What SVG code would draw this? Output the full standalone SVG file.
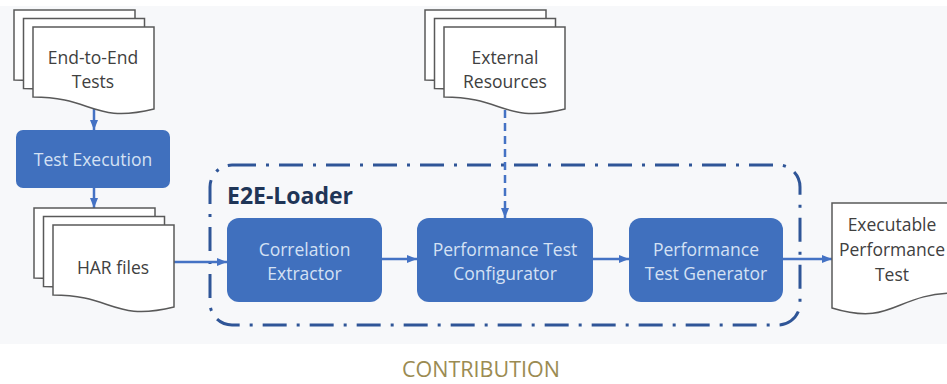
<svg xmlns="http://www.w3.org/2000/svg" width="947" height="384" viewBox="0 0 947 384">
  <style>
    .page { fill: #ffffff; stroke: #595959; stroke-width: 1.5; }
    .doctext { font-family: "Open Sans", "Liberation Sans", sans-serif; font-size: 17.5px; fill: #404040; text-anchor: middle; }
    .box { fill: #4070be; }
    .boxtext { font-family: "Open Sans", "Liberation Sans", sans-serif; font-size: 17.5px; fill: #d4e1f4; text-anchor: middle; }
    .conn { stroke: #4472c4; stroke-width: 2.5; fill: none; }
    .dashed { stroke-dasharray: 8 5; }
    .container { fill: none; stroke: #2f5597; stroke-width: 3; stroke-dasharray: 24 10 3 10; }
  </style>
  <defs>
    <marker id="arrow" markerUnits="userSpaceOnUse" markerWidth="10" markerHeight="10" viewBox="0 0 10 10" refX="10" refY="5" orient="auto">
      <path d="M0,1 L10,5 L0,9 Z" fill="#4472c4"/>
    </marker>
    <path id="docFlip" d="M0,0 H121 V82 C60,97 60,70 0,70 Z"/>
    <path id="docStd" d="M0,0 H125 V90 C62,90 62,124 0,105 Z"/>
  </defs>

  <rect x="0" y="6" width="947" height="338" fill="#f7f8fa"/>

  <!-- E2E-Loader container -->
  <g id="e2e-loader">
    <rect class="container" x="210" y="165" width="590" height="160" rx="22" ry="22"/>
    <text x="227" y="204" font-family="'Open Sans', 'Liberation Sans', sans-serif" font-size="23" font-weight="bold" fill="#1f3557">E2E-Loader</text>
  </g>

  <!-- connectors -->
  <g id="connectors">
    <line class="conn" x1="94" y1="109" x2="94" y2="130" marker-end="url(#arrow)"/>
    <line class="conn" x1="94" y1="188" x2="94" y2="208" marker-end="url(#arrow)"/>
    <line class="conn" x1="174" y1="262" x2="227" y2="262" marker-end="url(#arrow)"/>
    <line class="conn" x1="382" y1="259" x2="417" y2="259" marker-end="url(#arrow)"/>
    <line class="conn" x1="593" y1="259" x2="629" y2="259" marker-end="url(#arrow)"/>
    <line class="conn" x1="783" y1="259" x2="832" y2="259" marker-end="url(#arrow)"/>
    <line class="conn dashed" x1="505" y1="110" x2="505" y2="218" marker-end="url(#arrow)"/>
  </g>

  <!-- End-to-End Tests -->
  <g id="end-to-end-tests">
    <use href="#docFlip" class="page" transform="translate(14,10)"/>
    <use href="#docFlip" class="page" transform="translate(23.5,18.5)"/>
    <use href="#docFlip" class="page" transform="translate(33,27)"/>
    <text class="doctext" x="93" y="64">End-to-End</text>
    <text class="doctext" x="93" y="88">Tests</text>
  </g>

  <!-- Test Execution -->
  <g id="test-execution">
    <rect class="box" x="16" y="130" width="154" height="58" rx="7"/>
    <text class="boxtext" x="93" y="166">Test Execution</text>
  </g>

  <!-- HAR files -->
  <g id="har-files">
    <use href="#docFlip" class="page" transform="translate(34,208)"/>
    <use href="#docFlip" class="page" transform="translate(43.5,216.5)"/>
    <use href="#docFlip" class="page" transform="translate(53,225)"/>
    <text class="doctext" x="113" y="274">HAR files</text>
  </g>

  <!-- External Resources -->
  <g id="external-resources">
    <use href="#docFlip" class="page" transform="translate(425,10)"/>
    <use href="#docFlip" class="page" transform="translate(434.5,18.5)"/>
    <use href="#docFlip" class="page" transform="translate(444,27)"/>
    <text class="doctext" x="505" y="64">External</text>
    <text class="doctext" x="505" y="88">Resources</text>
  </g>

  <!-- Correlation Extractor -->
  <g id="correlation-extractor">
    <rect class="box" x="227" y="218" width="155" height="84" rx="12"/>
    <text class="boxtext" x="304.5" y="256">Correlation</text>
    <text class="boxtext" x="304.5" y="280">Extractor</text>
  </g>

  <!-- Performance Test Configurator -->
  <g id="performance-test-configurator">
    <rect class="box" x="417" y="218" width="176" height="84" rx="12"/>
    <text class="boxtext" x="505" y="256">Performance Test</text>
    <text class="boxtext" x="505" y="280">Configurator</text>
  </g>

  <!-- Performance Test Generator -->
  <g id="performance-test-generator">
    <rect class="box" x="629" y="218" width="154" height="84" rx="12"/>
    <text class="boxtext" x="706" y="256">Performance</text>
    <text class="boxtext" x="706" y="280">Test Generator</text>
  </g>

  <!-- Executable Performance Test -->
  <g id="executable-performance-test">
    <use href="#docStd" class="page" transform="translate(832,203)"/>
    <text class="doctext" x="892" y="231">Executable</text>
    <text class="doctext" x="892" y="256">Performance</text>
    <text class="doctext" x="892" y="281">Test</text>
  </g>

  <text x="481" y="377" font-family="'Open Sans', 'Liberation Sans', sans-serif" font-size="21.5" fill="#9b8b52" text-anchor="middle">CONTRIBUTION</text>
</svg>
